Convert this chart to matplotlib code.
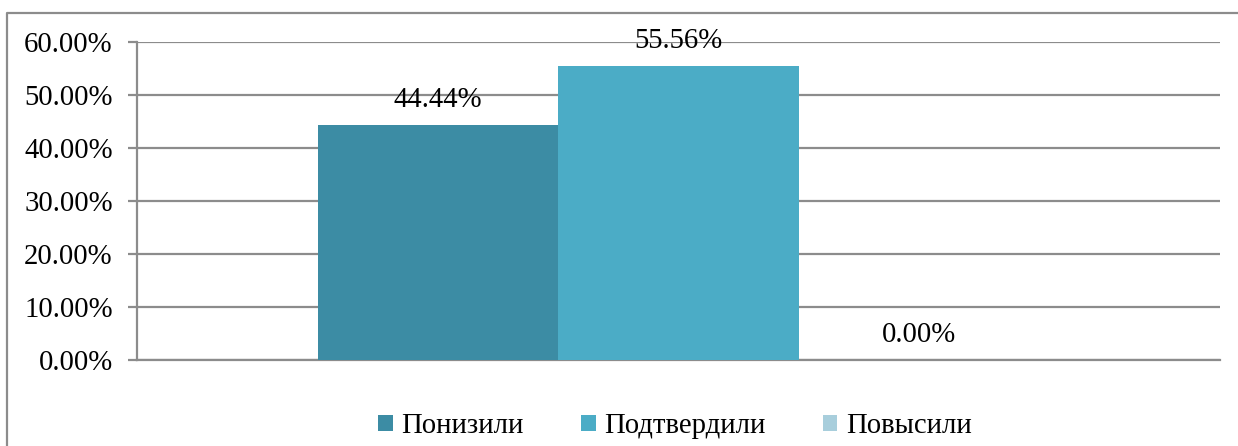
import matplotlib
matplotlib.use("Agg")
import matplotlib.pyplot as plt
from matplotlib.lines import Line2D
from matplotlib.ticker import FuncFormatter, MultipleLocator

series = ["Понизили", "Подтвердили", "Повысили"]
values = [0.4444, 0.5556, 0.0]
labels = ["44.44%", "55.56%", "0.00%"]
colors = ["#3C8CA4", "#4BACC6", "#A8CEDC"]

W, H = 1238, 446
dpi = 100
FS = 20.7
plt.rcParams['font.family'] = ['Liberation Serif', 'DejaVu Serif']
fig = plt.figure(figsize=(W / dpi, H / dpi), dpi=dpi)

ax = fig.add_axes([137 / W, (H - 360) / H, (1220 - 137) / W, (360 - 42.3) / H])
grid_c = "#8C8C8C"

xs = [-1, 0, 1]
bars = []
for x, v, c, s in zip(xs, values, colors, series):
    b = ax.bar(x, v, width=1.0, color=c, label=s, zorder=3)
    bars.append(b)

for x, v, t in zip(xs, values, labels):
    ax.annotate(t, (x, v), xytext=(0, 18), textcoords="offset points",
                ha="center", va="center", fontsize=FS, color="black")

ax.set_xlim(-2.25, 2.25)
ax.set_ylim(0, 0.6)
ax.yaxis.set_major_locator(MultipleLocator(0.1))
ax.yaxis.set_major_formatter(FuncFormatter(lambda v, p: f"{v*100:.2f}%"))
ax.set_xticks([])
ax.grid(axis="y", color=grid_c, linewidth=1.6, zorder=0)
for s in ["top", "right"]:
    ax.spines[s].set_visible(False)
for s in ["left", "bottom"]:
    ax.spines[s].set_color(grid_c)
    ax.spines[s].set_linewidth(1.6)
ax.tick_params(axis="y", length=6.5, width=1.6, color=grid_c, pad=11,
               labelsize=FS, labelcolor="black")

leg = fig.legend(handles=[b for b in bars], labels=series, loc="center",
                 bbox_to_anchor=(675 / W, (H - 426) / H), ncol=3, frameon=False,
                 fontsize=FS, handlelength=0.5, handleheight=0.5,
                 handletextpad=0.3, columnspacing=2.0)

# chart frame (left and top visible)
fig.add_artist(Line2D([7 / W, 7 / W, 1237 / W], [0, (H - 13) / H, (H - 13) / H],
                      transform=fig.transFigure, color="#8C8C8C", linewidth=1.6))

fig.savefig("out.png", dpi=dpi)
